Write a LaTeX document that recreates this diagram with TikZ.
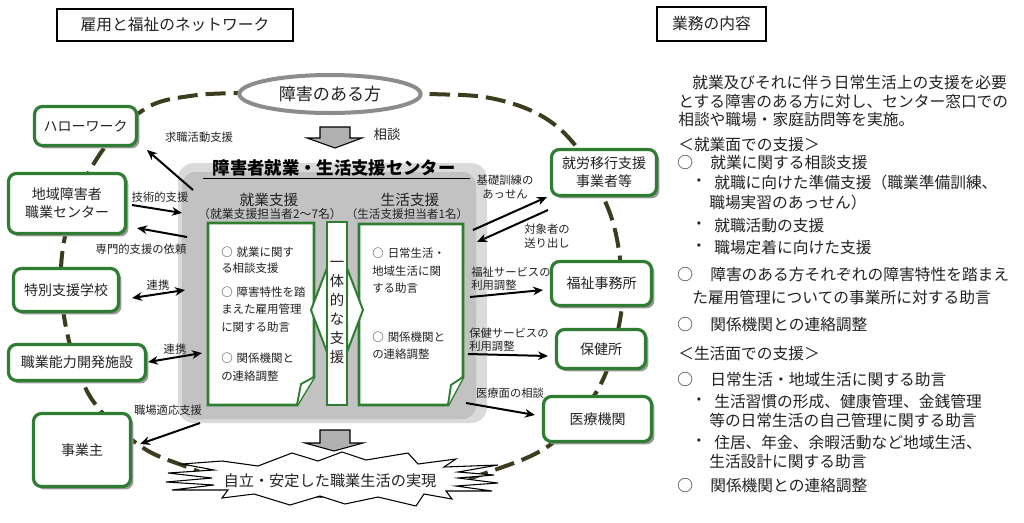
\documentclass[tikz,border=0pt]{standalone}
\usepackage{fontspec}
\setmainfont{Noto Sans CJK JP}
\usetikzlibrary{shapes.geometric,arrows.meta,shadows}
\definecolor{gcol}{HTML}{2E7D32}
\definecolor{olivec}{HTML}{3C3C1E}
\definecolor{txtc}{HTML}{222222}
\definecolor{ellgray}{HTML}{8C8C8C}
\definecolor{boxgray}{HTML}{C2C2C2}
\definecolor{boxlight}{HTML}{DADADA}
\definecolor{blockgray}{HTML}{B0B0B0}
\begin{document}
\begin{tikzpicture}[x=0.75pt,y=-0.75pt,
  gnode/.style={draw=gcol, line width=2.4pt, rounded corners=6pt, fill=white, align=center,
    inner sep=0pt, text=txtc, font=\fontsize{10.5}{13.5}\selectfont,
    drop shadow={shadow xshift=2.2pt, shadow yshift=-2.2pt, fill=black!40, opacity=1}},
  lbl/.style={font=\fontsize{8.5}{11}\selectfont, text=txtc, inner sep=0pt, align=center},
  lbll/.style={font=\fontsize{8.5}{11}\selectfont, text=txtc, inner sep=0pt, anchor=west},
  conn/.style={line width=1.5pt, -{Stealth[length=7.5pt,width=6.5pt]}},
  conntwo/.style={line width=1.5pt, {Stealth[length=7.5pt,width=6.5pt]}-{Stealth[length=7.5pt,width=6.5pt]}},
  rp/.style={font=\fontsize{11.8}{14}\selectfont, text=txtc, inner sep=0pt, anchor=west},
  itm/.style={font=\fontsize{8.6}{11}\selectfont, text=txtc, inner sep=0pt, anchor=west},
  inbox/.style={draw=gcol, line width=2.2pt, fill=white, line join=miter},
  blockarrow/.style={fill=blockgray, draw=black, line width=0.8pt, line join=miter},
  titlebox/.style={draw=black, line width=0.8pt, fill=white, inner sep=0pt, text=txtc, font=\fontsize{11.8}{14}\selectfont}
]
\useasboundingbox (0,0) rectangle (1024,522);
\fill[white] (0,0) rectangle (1024,522);

% title boxes
\node[titlebox, minimum width=177pt, minimum height=24pt] (ttl) at (175,25) {雇用と福祉のネットワーク};
\node[titlebox, minimum width=81.75pt, minimum height=25.5pt] (ttr) at (711.5,24) {業務の内容};

% dashed network loop
\draw[olivec, line width=3pt, dash pattern=on 15pt off 6pt]
  plot[smooth cycle, tension=0.6] coordinates {
  (330,92) (430,94) (490,98) (540,115) (575,145) (600,190) (615,230) (622,280)
  (620,320) (605,375) (580,415) (547,447) (500,468) (430,488) (330,496) (240,486)
  (190,468) (150,452) (120,430) (100,410) (85,387) (70,345) (62,300) (62,255)
  (72,210) (90,170) (115,135) (150,106) (190,96) (237,93)};

% central gray box
\fill[boxlight, rounded corners=12pt] (178,163) rectangle (487,423);
\fill[boxgray, rounded corners=10pt] (182,172) rectangle (476,419);
\node[font=\bfseries\fontsize{13}{15}\selectfont, text=black, inner sep=0pt] (ctitle) at (334,167.5) {障害者就業・生活支援センター};
\draw[black, line width=1.2pt] (203,178.5) -- (470,178.5);

\node[font=\fontsize{11}{13}\selectfont, text=txtc, inner sep=0pt] (shugyo) at (269,200) {就業支援};
\node[font=\fontsize{8.9}{10}\selectfont, text=txtc, inner sep=0pt] (shugyosub) at (270,214) {（就業支援担当者2～7名）};
\node[font=\fontsize{11}{13}\selectfont, text=txtc, inner sep=0pt] (seikatsu) at (410,200) {生活支援};
\node[font=\fontsize{8.7}{10}\selectfont, text=txtc, inner sep=0pt] (seikatsusub) at (407,214) {（生活支援担当者1名）};

% inner boxes with folded corner
\draw[inbox] (208,223) -- (314,223) -- (314,377) -- (297,405) -- (208,405) -- cycle;
\draw[gcol, line width=1.4pt, fill=white, line join=miter] (297,405) -- (301,384) -- (314,377);
\draw[inbox] (359,224) -- (463,224) -- (463,377) -- (448,405) -- (359,405) -- cycle;
\draw[gcol, line width=1.4pt, fill=white, line join=miter] (448,405) -- (451,385) -- (463,377);

% double arrow and middle bar
\draw[gcol, line width=1.5pt, fill=white, line join=miter]
  (311,310) -- (327,268) -- (327,296) -- (347,296) -- (347,268) -- (363,310)
  -- (347,352) -- (347,324) -- (327,324) -- (327,352) -- cycle;
\draw[inbox, line width=2pt] (327,222) rectangle (347,405);
\node[font=\fontsize{10.8}{14.25}\selectfont, text=txtc, align=center, inner sep=0pt] (ittai) at (337,312.5) {一\\体\\的\\な\\支\\援};

% inner texts
\node[itm] (l1) at (221,252) {○\hspace{0.35em}就業に関す};
\node[itm] (l2) at (221,268.5) {る相談支援};
\node[itm] (l3) at (221,292) {○\hspace{0.35em}障害特性を踏};
\node[itm] (l4) at (221,309.5) {まえた雇用管理};
\node[itm] (l5) at (221,327) {に関する助言};
\node[itm] (l6) at (221,358) {○\hspace{0.35em}関係機関と};
\node[itm] (l7) at (221,376) {の連絡調整};
\node[itm] (m1) at (372,253) {○\hspace{0.35em}日常生活・};
\node[itm] (m2) at (372,271) {地域生活に関};
\node[itm] (m3) at (372,288) {する助言};
\node[itm] (m4) at (372,337) {○\hspace{0.35em}関係機関と};
\node[itm] (m5) at (372,354) {の連絡調整};

% block arrows
\draw[blockarrow] (320,127) -- (350,127) -- (350,138) -- (362,138) -- (335,148) -- (307,138) -- (320,138) -- cycle;
\node[font=\fontsize{10}{12}\selectfont, text=txtc, inner sep=0pt] (soudan) at (387,134) {相談};
\draw[blockarrow] (320,430) -- (350,430) -- (350,443) -- (363,443) -- (334,451) -- (305,443) -- (320,443) -- cycle;

% starburst
\draw[black, line width=0.8pt, fill=white, line join=miter]
  (222,461) -- (258,466) -- (292,453) -- (318,461) -- (342,452) -- (366,460) -- (408,453)
  -- (418,464) -- (456,459) -- (444,467) -- (498,465) -- (458,472) -- (494,475) -- (458,478)
  -- (498,483) -- (456,486) -- (492,491) -- (446,491) -- (452,499) -- (424,494) -- (416,506)
  -- (378,497) -- (345,504) -- (320,496) -- (290,505) -- (254,494) -- (222,498) -- (228,490)
  -- (172,490) -- (214,485) -- (166,482) -- (212,478) -- (168,473) -- (214,470) -- (182,464) -- cycle;
\node[font=\fontsize{11.4}{13}\selectfont, text=txtc, inner sep=0pt] (goal) at (330,481) {自立・安定した職業生活の実現};

% person ellipse
\node[ellipse, draw=ellgray, line width=3pt, fill=white, minimum width=136pt, minimum height=28.5pt,
  inner sep=0pt, text=txtc, font=\fontsize{12.8}{14}\selectfont] (person) at (330,94) {障害のある方};

% network nodes
\node[gnode, minimum width=76.5pt, minimum height=29.25pt] (hw) at (85.5,126) {ハローワーク};
\node[gnode, minimum width=87.75pt, minimum height=45pt] (chiiki) at (67,203.5) {地域障害者\\職業センター};
\node[gnode, minimum width=78.75pt, minimum height=32.25pt] (toku) at (66,290) {特別支援学校};
\node[gnode, minimum width=102.75pt, minimum height=27pt] (nouryoku) at (77,362.5) {職業能力開発施設};
\node[gnode, minimum width=72.75pt, minimum height=54.75pt] (jigyo) at (82,450) {事業主};
\node[gnode, minimum width=78.75pt, minimum height=34.5pt] (shuro) at (604,172.5) {就労移行支援\\事業者等};
\node[gnode, minimum width=75pt, minimum height=33pt] (fukushi) at (601.5,283.5) {福祉事務所};
\node[gnode, minimum width=66.75pt, minimum height=29.25pt] (hoken) at (601,349) {保健所};
\node[gnode, minimum width=81pt, minimum height=33.75pt] (iryo) at (597.5,419) {医療機関};

% connector end points
\coordinate (a1s) at (193,190); \coordinate (a1e) at (147,150);
\coordinate (a2s) at (132,205); \coordinate (a2e) at (182,213);
\coordinate (a3s) at (187,237); \coordinate (a3e) at (137,228);
\coordinate (a4s) at (132,298); \coordinate (a4e) at (185,290);
\coordinate (a5s) at (148,362); \coordinate (a5e) at (202,353);
\coordinate (a6s) at (200,423); \coordinate (a6e) at (140,444);
\coordinate (b1s) at (473,230); \coordinate (b1e) at (547,197);
\coordinate (b2s) at (548,210); \coordinate (b2e) at (477,242);
\coordinate (b3s) at (470,297); \coordinate (b3e) at (543,290);
\coordinate (b4s) at (468,354); \coordinate (b4e) at (548,356);
\coordinate (b5s) at (466,403); \coordinate (b5e) at (535,415);

\draw[conn] (a1s) -- (a1e);
\draw[conn] (a2s) -- (a2e);
\draw[conn] (a3s) -- (a3e);
\draw[conntwo] (a4s) -- (a4e);
\draw[conntwo] (a5s) -- (a5e);
\draw[conn] (a6s) -- (a6e);
\draw[conn] (b1s) -- (b1e);
\draw[conn] (b2s) -- (b2e);
\draw[conn] (b3s) -- (b3e);
\draw[conn] (b4s) -- (b4e);
\draw[conn] (b5s) -- (b5e);

% connector labels
\node[lbl] (la1) at (199,137) {求職活動支援};
\node[lbl] (la2) at (160,197) {技術的支援};
\node[lbl] (la3) at (141,249) {専門的支援の依頼};
\node[lbl] (la4) at (158,285) {連携};
\node[lbl] (la5) at (175,349) {連携};
\node[lbl] (la6) at (168,410) {職場適応支援};
\node[lbl] (lb1) at (505,187) {基礎訓練の\\あっせん};
\node[lbl] (lb2) at (547,236) {対象者の\\送り出し};
\node[lbll] (lb3a) at (471,272) {福祉サービスの};
\node[lbll] (lb3b) at (471,285) {利用調整};
\node[lbll] (lb4a) at (469,333) {保健サービスの};
\node[lbll] (lb4b) at (469,346) {利用調整};
\node[lbl] (lb5) at (510,393) {医療面の相談};

% right panel
\node[rp] (r1) at (692,83) {就業及びそれに伴う日常生活上の支援を必要};
\node[rp] (r2) at (678,102) {とする障害のある方に対し、センター窓口での};
\node[rp] (r3) at (678,120) {相談や職場・家庭訪問等を実施。};
\node[rp] (r4) at (678,145) {＜就業面での支援＞};
\node[rp] (c5) at (677,163) {○};
\node[rp] (r5) at (710,163) {就業に関する相談支援};
\node[rp, anchor=center] (d6) at (699,183) {・};
\node[rp] (r6) at (714,183) {就職に向けた準備支援（職業準備訓練、};
\node[rp] (r7) at (709,203) {職場実習のあっせん）};
\node[rp, anchor=center] (d8) at (699,226) {・};
\node[rp] (r8) at (714,226) {就職活動の支援};
\node[rp, anchor=center] (d9) at (699,248) {・};
\node[rp] (r9) at (714,248) {職場定着に向けた支援};
\node[rp] (c10) at (677,275) {○};
\node[rp] (r10) at (710,275) {障害のある方それぞれの障害特性を踏まえ};
\node[rp] (r11) at (692,298) {た雇用管理についての事業所に対する助言};
\node[rp] (c12) at (677,325) {○};
\node[rp] (r12) at (710,325) {関係機関との連絡調整};
\node[rp] (r13) at (678,354) {＜生活面での支援＞};
\node[rp] (c14) at (677,380) {○};
\node[rp] (r14) at (710,380) {日常生活・地域生活に関する助言};
\node[rp, anchor=center] (d15) at (699,402) {・};
\node[rp] (r15) at (714,402) {生活習慣の形成、健康管理、金銭管理};
\node[rp] (r16) at (709,420) {等の日常生活の自己管理に関する助言};
\node[rp, anchor=center] (d17) at (699,443) {・};
\node[rp] (r17) at (714,443) {住居、年金、余暇活動など地域生活、};
\node[rp] (r18) at (709,462) {生活設計に関する助言};
\node[rp] (c19) at (677,486) {○};
\node[rp] (r19) at (710,486) {関係機関との連絡調整};
\end{tikzpicture}
\end{document}
